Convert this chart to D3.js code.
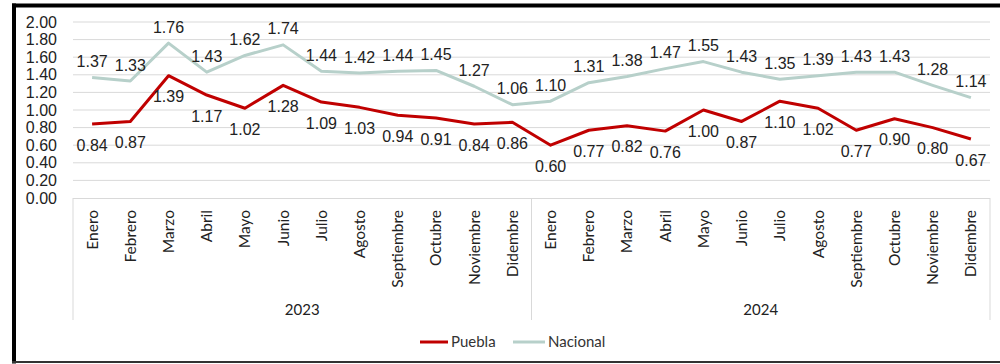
<!DOCTYPE html>
<html><head><meta charset="utf-8">
<script src="https://cdn.jsdelivr.net/npm/d3@7"></script>
<style>body{margin:0;background:#fff}svg{display:block}</style>
</head><body>
<svg id="c" width="1000" height="364"></svg>
<script>
const months = ["Enero","Febrero","Marzo","Abril","Mayo","Junio","Julio","Agosto","Septiembre","Octubre","Noviembre","Didembre"];
const years = ["2023","2024"];
const puebla = [0.84,0.87,1.39,1.17,1.02,1.28,1.09,1.03,0.94,0.91,0.84,0.86,
                0.60,0.77,0.82,0.76,1.00,0.87,1.10,1.02,0.77,0.90,0.80,0.67];
const nacional = [1.37,1.33,1.76,1.43,1.62,1.74,1.44,1.42,1.44,1.45,1.27,1.06,
                  1.10,1.31,1.38,1.47,1.55,1.43,1.35,1.39,1.43,1.43,1.28,1.14];
const yTicks = [0,0.2,0.4,0.6,0.8,1.0,1.2,1.4,1.6,1.8,2.0];

const cats = [];
years.forEach(y => months.forEach(m => cats.push(y + "|" + m)));

const svg = d3.select("#c");
const L = 73, R = 990, T = 22, B = 198;
const x = d3.scaleBand().domain(cats).range([L, R]);
const y = d3.scaleLinear().domain([0, 2]).range([B, T]);
const cx = d => x(d) + x.bandwidth() / 2;
const catFont = "Lato, 'Open Sans', sans-serif";

// frame
svg.append("rect").attr("x",12).attr("y",3.5).attr("width",1000).attr("height",4).attr("fill","#000");
svg.append("rect").attr("x",12).attr("y",3.5).attr("width",4).attr("height",360).attr("fill","#000");
svg.append("rect").attr("x",12).attr("y",361).attr("width",988).attr("height",2).attr("fill","#333");

// gridlines
svg.append("g").selectAll("line").data(yTicks.slice(1)).join("line")
  .attr("x1", L).attr("x2", R).attr("y1", d => y(d)).attr("y2", d => y(d))
  .attr("stroke", "#d9d9d9").attr("stroke-width", 1);

// y axis labels
const ya = svg.append("g").attr("transform", `translate(${L},0)`)
  .call(d3.axisLeft(y).tickValues(yTicks).tickFormat(d3.format(".2f")).tickSize(0).tickPadding(16));
ya.select(".domain").remove();
ya.selectAll("text").attr("font-family","'Liberation Sans', Arial, sans-serif").attr("font-size",16).attr("fill","#222");

// category axis box
const xa = svg.append("g").attr("transform", `translate(0,${B})`)
  .call(d3.axisBottom(x).tickSize(0).tickFormat(d => d.split("|")[1]));
xa.select(".domain").remove();
xa.selectAll("text")
  .attr("font-family",catFont).attr("font-size",15.5).attr("fill","#222")
  .attr("transform","rotate(-90)").attr("text-anchor","end")
  .attr("x",-12).attr("y",0).attr("dy","0.35em");
svg.append("line").attr("x1",L).attr("x2",R).attr("y1",B+0.5).attr("y2",B+0.5).attr("stroke","#d9d9d9");
svg.append("g").selectAll("line").data([L, x(cats[12]), R]).join("line")
  .attr("x1", d => d).attr("x2", d => d).attr("y1", B).attr("y2", 320)
  .attr("stroke", "#d9d9d9");
svg.append("g").selectAll("text").data(years).join("text")
  .attr("x", (d,i) => (x(cats[i*12]) + x(cats[i*12+11]) + x.bandwidth())/2)
  .attr("y", 310).attr("dy","0.35em").attr("text-anchor","middle")
  .attr("font-family",catFont).attr("font-size",15).attr("fill","#222")
  .text(d => d);

// lines
const line = d3.line().x((d,i) => cx(cats[i])).y(d => y(d));
svg.append("path").datum(nacional).attr("d", line).attr("fill","none")
  .attr("stroke","#b7d0ca").attr("stroke-width",3).attr("stroke-linejoin","round");
svg.append("path").datum(puebla).attr("d", line).attr("fill","none")
  .attr("stroke","#c00000").attr("stroke-width",3).attr("stroke-linejoin","round");

// data labels
const lblFont = "'Liberation Sans', Arial, sans-serif";
svg.append("g").selectAll("text").data(nacional).join("text")
  .attr("x",(d,i) => cx(cats[i])).attr("y", d => y(d) - 16).attr("dy","0.35em")
  .attr("text-anchor","middle").attr("font-family",lblFont).attr("font-size",16).attr("fill","#222")
  .text(d => d.toFixed(2));
svg.append("g").selectAll("text").data(puebla).join("text")
  .attr("x",(d,i) => cx(cats[i])).attr("y", d => y(d) + 21).attr("dy","0.35em")
  .attr("text-anchor","middle").attr("font-family",lblFont).attr("font-size",16).attr("fill","#222")
  .text(d => d.toFixed(2));

// legend
const legend = [["Puebla","#c00000",420,448],["Nacional","#b7d0ca",513,545]];
const lg = svg.append("g");
legend.forEach(([name,col,x1,x2]) => {
  lg.append("line").attr("x1",x1).attr("x2",x2).attr("y1",342).attr("y2",342).attr("stroke",col).attr("stroke-width",3);
  lg.append("text").attr("x",x2+3).attr("y",342).attr("dy","0.35em")
    .attr("font-family",catFont).attr("font-size",15).attr("fill","#333").text(name);
});
</script>
</body></html>
